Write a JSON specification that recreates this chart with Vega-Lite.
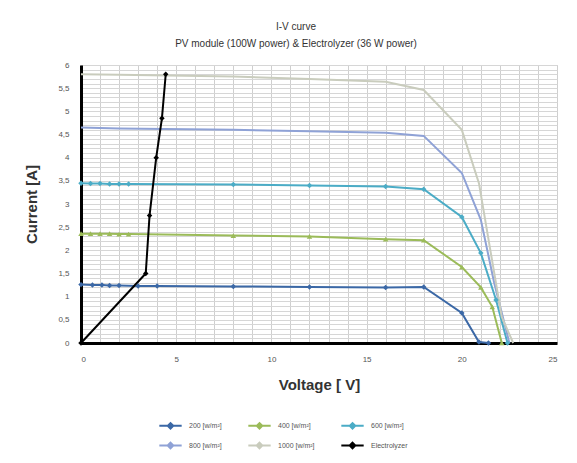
{
  "$schema": "https://vega.github.io/schema/vega-lite/v6.json",
  "width": 476,
  "height": 278,
  "autosize": {"type": "none"},
  "padding": {"left": 81, "top": 65, "right": 20, "bottom": 120},
  "background": "white",
  "title": {
    "text": ["I-V curve", "PV module (100W power) & Electrolyzer (36 W power)"],
    "fontSize": 10,
    "fontWeight": "normal",
    "color": "#333333",
    "font": "Liberation Sans",
    "lineHeight": 17,
    "offset": 12,
    "dx": -23,
    "anchor": "middle"
  },
  "config": {
    "view": {"stroke": "#cccccc", "strokeWidth": 1},
    "axis": {"labelFont": "Liberation Sans", "titleFont": "Liberation Sans"}
  },
  "data": {
    "values": [
      {"s": "200 [w/m²]", "v": 0, "i": 1.26},
      {"s": "200 [w/m²]", "v": 0.6, "i": 1.25},
      {"s": "200 [w/m²]", "v": 1.1, "i": 1.25},
      {"s": "200 [w/m²]", "v": 1.5, "i": 1.24},
      {"s": "200 [w/m²]", "v": 2, "i": 1.24},
      {"s": "200 [w/m²]", "v": 3, "i": 1.23},
      {"s": "200 [w/m²]", "v": 4, "i": 1.23},
      {"s": "200 [w/m²]", "v": 8, "i": 1.22},
      {"s": "200 [w/m²]", "v": 12, "i": 1.21},
      {"s": "200 [w/m²]", "v": 16, "i": 1.2},
      {"s": "200 [w/m²]", "v": 18, "i": 1.21},
      {"s": "200 [w/m²]", "v": 20, "i": 0.65},
      {"s": "200 [w/m²]", "v": 20.9, "i": 0.02},
      {"s": "200 [w/m²]", "v": 21.4, "i": 0},
      {"s": "400 [w/m²]", "v": 0, "i": 2.36},
      {"s": "400 [w/m²]", "v": 0.5, "i": 2.36},
      {"s": "400 [w/m²]", "v": 1, "i": 2.36},
      {"s": "400 [w/m²]", "v": 1.5, "i": 2.36},
      {"s": "400 [w/m²]", "v": 2, "i": 2.35},
      {"s": "400 [w/m²]", "v": 2.5, "i": 2.35},
      {"s": "400 [w/m²]", "v": 8, "i": 2.32},
      {"s": "400 [w/m²]", "v": 12, "i": 2.3},
      {"s": "400 [w/m²]", "v": 16, "i": 2.24},
      {"s": "400 [w/m²]", "v": 18, "i": 2.22},
      {"s": "400 [w/m²]", "v": 20, "i": 1.64},
      {"s": "400 [w/m²]", "v": 21, "i": 1.2},
      {"s": "400 [w/m²]", "v": 21.6, "i": 0.78},
      {"s": "400 [w/m²]", "v": 22.1, "i": 0},
      {"s": "600 [w/m²]", "v": 0, "i": 3.45},
      {"s": "600 [w/m²]", "v": 0.5, "i": 3.44},
      {"s": "600 [w/m²]", "v": 1, "i": 3.44},
      {"s": "600 [w/m²]", "v": 1.5, "i": 3.43},
      {"s": "600 [w/m²]", "v": 2, "i": 3.43},
      {"s": "600 [w/m²]", "v": 2.5, "i": 3.43},
      {"s": "600 [w/m²]", "v": 8, "i": 3.42},
      {"s": "600 [w/m²]", "v": 12, "i": 3.4},
      {"s": "600 [w/m²]", "v": 16, "i": 3.38},
      {"s": "600 [w/m²]", "v": 18, "i": 3.32},
      {"s": "600 [w/m²]", "v": 20, "i": 2.72},
      {"s": "600 [w/m²]", "v": 21, "i": 1.94},
      {"s": "600 [w/m²]", "v": 21.8, "i": 0.93},
      {"s": "600 [w/m²]", "v": 22.4, "i": 0},
      {"s": "800 [w/m²]", "v": 0, "i": 4.65},
      {"s": "800 [w/m²]", "v": 2, "i": 4.63},
      {"s": "800 [w/m²]", "v": 8, "i": 4.6},
      {"s": "800 [w/m²]", "v": 12, "i": 4.57},
      {"s": "800 [w/m²]", "v": 16, "i": 4.54},
      {"s": "800 [w/m²]", "v": 18, "i": 4.47},
      {"s": "800 [w/m²]", "v": 20, "i": 3.67},
      {"s": "800 [w/m²]", "v": 21, "i": 2.66},
      {"s": "800 [w/m²]", "v": 21.7, "i": 1.3},
      {"s": "800 [w/m²]", "v": 22.5, "i": 0},
      {"s": "1000 [w/m²]", "v": 0, "i": 5.8},
      {"s": "1000 [w/m²]", "v": 2, "i": 5.79},
      {"s": "1000 [w/m²]", "v": 8, "i": 5.75},
      {"s": "1000 [w/m²]", "v": 12, "i": 5.7},
      {"s": "1000 [w/m²]", "v": 16, "i": 5.64},
      {"s": "1000 [w/m²]", "v": 18, "i": 5.46},
      {"s": "1000 [w/m²]", "v": 20, "i": 4.6},
      {"s": "1000 [w/m²]", "v": 20.9, "i": 3.45},
      {"s": "1000 [w/m²]", "v": 21.5, "i": 2.0},
      {"s": "1000 [w/m²]", "v": 22.1, "i": 0.56},
      {"s": "1000 [w/m²]", "v": 22.7, "i": 0},
      {"s": "Electrolyzer", "v": 0, "i": 0},
      {"s": "Electrolyzer", "v": 3.4, "i": 1.5},
      {"s": "Electrolyzer", "v": 3.6, "i": 2.75},
      {"s": "Electrolyzer", "v": 3.95, "i": 4.0},
      {"s": "Electrolyzer", "v": 4.25, "i": 4.85},
      {"s": "Electrolyzer", "v": 4.45, "i": 5.8}
    ]
  },
  "encoding": {
    "x": {
      "field": "v",
      "type": "quantitative",
      "scale": {"domain": [0, 25], "nice": false},
      "axis": {
        "title": "Voltage  [ V]",
        "titleFontSize": 15,
        "titleFontWeight": "bold",
        "titleColor": "#333333",
        "titlePadding": 14,
        "values": [0,1,2,3,4,5,6,7,8,9,10,11,12,13,14,15,16,17,18,19,20,21,22,23,24,25],
        "labelExpr": "datum.value % 5 == 0 ? datum.label : ''",
        "labelFontSize": 8,
        "labelColor": "#555555",
        "labelPadding": 12,
        "ticks": false,
        "grid": true,
        "gridColor": "#cfcfcf",
        "gridWidth": 1,
        "domainColor": "#000000",
        "domainWidth": 3
      }
    },
    "y": {
      "field": "i",
      "type": "quantitative",
      "scale": {"domain": [0, 6], "nice": false},
      "axis": {
        "title": "Current [A]",
        "titleFontSize": 15,
        "titleFontWeight": "bold",
        "titleColor": "#333333",
        "titlePadding": 18,
        "values": [0,0.1,0.2,0.3,0.4,0.5,0.6,0.7,0.8,0.9,1,1.1,1.2,1.3,1.4,1.5,1.6,1.7,1.8,1.9,2,2.1,2.2,2.3,2.4,2.5,2.6,2.7,2.8,2.9,3,3.1,3.2,3.3,3.4,3.5,3.6,3.7,3.8,3.9,4,4.1,4.2,4.3,4.4,4.5,4.6,4.7,4.8,4.9,5,5.1,5.2,5.3,5.4,5.5,5.6,5.7,5.8,5.9,6],
        "labelExpr": "round(datum.value*10) % 5 == 0 ? replace(format(datum.value, '.1~f'), '.', ',') : ''",
        "labelFontSize": 8,
        "labelColor": "#555555",
        "labelPadding": 12,
        "ticks": false,
        "grid": true,
        "gridColor": "#d6d6d6",
        "gridWidth": 1,
        "domainColor": "#000000",
        "domainWidth": 3
      }
    }
  },
  "layer": [
    {
      "mark": {"type": "line", "clip": false},
      "encoding": {
        "color": {
          "field": "s",
          "type": "nominal",
          "scale": {
            "domain": ["200 [w/m²]", "400 [w/m²]", "600 [w/m²]", "800 [w/m²]", "1000 [w/m²]", "Electrolyzer"],
            "range": ["#3b68a6", "#9bbb59", "#4bacc6", "#8fa2d6", "#c9ccbd", "#000000"]
          },
          "legend": {
            "orient": "none",
            "legendX": 77,
            "legendY": 348,
            "direction": "horizontal",
            "columns": 3,
            "title": null,
            "labelFontSize": 7,
            "labelColor": "#555555",
            "labelFont": "Liberation Sans",
            "symbolType": "M-1,0H1M-0.25,0L0,-0.25L0.25,0L0,0.25Z",
            "symbolSize": 500,
            "symbolStrokeWidth": 1.5,
            "columnPadding": 22,
            "rowPadding": -7,
            "labelOffset": 6,
            "encode": {
              "symbols": {"update": {"fill": {"scale": "color", "field": "value"}}}
            }
          }
        },
        "strokeWidth": {
          "field": "s",
          "type": "nominal",
          "scale": {
            "domain": ["200 [w/m²]", "400 [w/m²]", "600 [w/m²]", "800 [w/m²]", "1000 [w/m²]", "Electrolyzer"],
            "range": [2, 2, 2, 1.5, 1.2, 2.5]
          },
          "legend": null
        }
      }
    },
    {
      "transform": [{"filter": "datum.s != '800 [w/m²]' && datum.s != '1000 [w/m²]'"}],
      "mark": {"type": "point", "filled": true, "opacity": 1, "clip": false},
      "encoding": {
        "color": {"field": "s", "type": "nominal"},
        "shape": {
          "field": "s",
          "type": "nominal",
          "scale": {
            "domain": ["200 [w/m²]", "400 [w/m²]", "600 [w/m²]", "Electrolyzer"],
            "range": ["diamond", "triangle-up", "diamond", "diamond"]
          },
          "legend": null
        },
        "size": {
          "field": "s",
          "type": "nominal",
          "scale": {
            "domain": ["200 [w/m²]", "400 [w/m²]", "600 [w/m²]", "Electrolyzer"],
            "range": [30, 30, 25, 50]
          },
          "legend": null
        }
      }
    }
  ]
}
